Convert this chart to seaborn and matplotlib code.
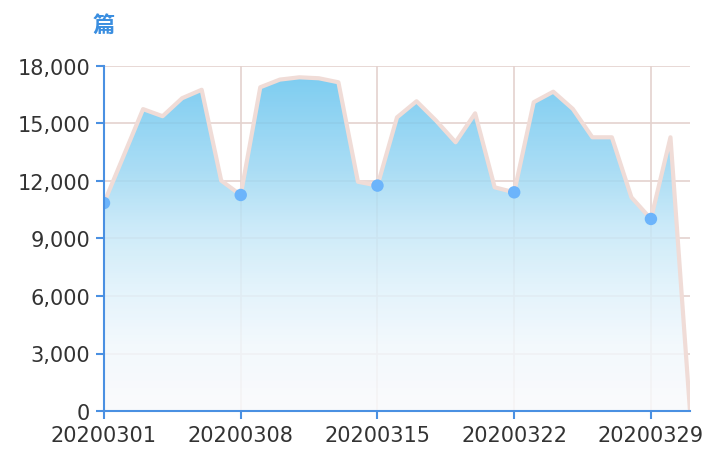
"""
Daily article count for March 2020, area chart with gradient fill
"""
import numpy as np
import pandas as pd
import matplotlib.pyplot as plt
import seaborn as sns
from matplotlib.colors import LinearSegmentedColormap
from matplotlib.patches import Polygon

sns.set_style('white')
plt.rcParams['font.family'] = ['DejaVu Sans', 'Noto Sans CJK SC']

# data
dates = ['20200301', '20200302', '20200303', '20200304', '20200305', '20200306',
         '20200307', '20200308', '20200309', '20200310', '20200311', '20200312',
         '20200313', '20200314', '20200315', '20200316', '20200317', '20200318',
         '20200319', '20200320', '20200321', '20200322', '20200323', '20200324',
         '20200325', '20200326', '20200327', '20200328', '20200329', '20200330',
         '20200331']
counts = [10850, 13300, 15750, 15380, 16320, 16760, 12020, 11270, 16890, 17290,
          17410, 17360, 17150, 11960, 11760, 15320, 16160, 15150, 14020, 15530,
          11670, 11410, 16110, 16660, 15760, 14280, 14280, 11150, 10020, 14280, 0]
y_ticks = [0, 3000, 6000, 9000, 12000, 15000, 18000]
unit_label = '篇'

df = pd.DataFrame({'date': dates, 'count': counts})
df['idx'] = np.arange(len(df))
marked = df[df['idx'] % 7 == 0]

axis_blue = '#4a90e2'
grid_col = '#e4d2ce'
line_col = '#f0dcd7'
dot_col = '#6cb4fb'
text_col = '#333333'

fig = plt.figure(figsize=(7.09, 4.52), dpi=100)
ax = fig.add_axes([104 / 709, 40 / 452, 586 / 709, 345 / 452])

# grid sits under a slightly see-through gradient fill
ax.grid(True, color=grid_col, linewidth=1.2)
ax.set_axisbelow(True)

cmap = LinearSegmentedColormap.from_list('sky', [
    (0.0, '#fafbfc'), (0.2, '#f1f8fd'), (0.38, '#ddf1fb'),
    (0.55, '#c3e7f8'), (0.72, '#9bd7f3'), (1.0, '#66c4ef')])
top = df['count'].max()
grad = np.linspace(0, 1, 256).reshape(-1, 1)
im = ax.imshow(grad, cmap=cmap, aspect='auto', origin='lower', alpha=0.84,
               extent=[0, len(df) - 1, 0, top], zorder=1)
verts = list(zip(df['idx'], df['count'])) + [(len(df) - 1, 0), (0, 0)]
clip = Polygon(verts, closed=True, facecolor='none', edgecolor='none')
ax.add_patch(clip)
im.set_clip_path(clip)

sns.lineplot(data=df, x='idx', y='count', color=line_col, linewidth=3,
             ax=ax, zorder=3)
sns.scatterplot(data=marked, x='idx', y='count', color=dot_col, s=80,
                edgecolor='none', ax=ax, zorder=4)

ax.set_xlim(0, len(df) - 1)
ax.set_ylim(0, y_ticks[-1])
ax.set_yticks(y_ticks)
ax.set_yticklabels([f'{v:,}' for v in y_ticks])
ax.set_xticks(marked['idx'])
ax.set_xticklabels(marked['date'])

for side in ['top', 'right']:
    ax.spines[side].set_visible(False)
for side in ['left', 'bottom']:
    ax.spines[side].set_color(axis_blue)
    ax.spines[side].set_linewidth(1.5)
    ax.spines[side].set_zorder(5)

ax.tick_params(axis='both', colors=axis_blue, length=6, width=1.5,
               labelcolor=text_col, labelsize=15, direction='out', pad=4,
               left=True, bottom=True)
ax.set_xlabel('')
ax.set_ylabel('')

fig.text(104 / 709, 1 - 25 / 452, unit_label, color='#3a8ee0', fontsize=16,
         fontweight='bold', ha='center', va='center',
         family=['Noto Sans CJK SC', 'DejaVu Sans'])

fig.savefig('out.png', dpi=100)
